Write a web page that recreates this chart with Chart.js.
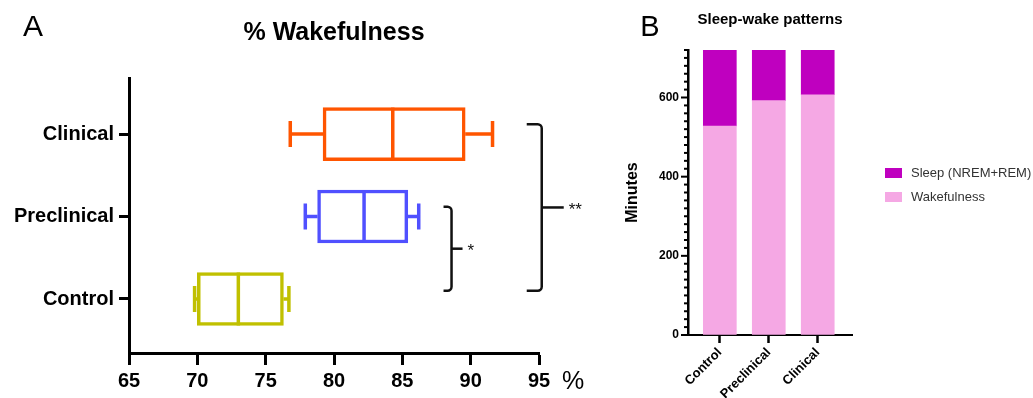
<!DOCTYPE html>
<html>
<head>
<meta charset="utf-8">
<script src="https://cdn.jsdelivr.net/npm/chart.js@4.4.1/dist/chart.umd.min.js"></script>
<style>
  html, body { margin: 0; padding: 0; background: #fff; }
  #wrap { position: relative; width: 1033px; height: 398px; overflow: hidden; }
  #boxWrap { position: absolute; left: 0; top: 0; width: 620px; height: 398px; }
  #barWrap { position: absolute; left: 620px; top: 0; width: 413px; height: 398px; }
</style>
</head>
<body>
<div id="wrap">
  <div id="boxWrap"><canvas id="boxChart"></canvas></div>
  <div id="barWrap"><canvas id="barChart"></canvas></div>
</div>
<script>
const FONT = '"Liberation Sans", Arial, sans-serif';

/* ================= DATA: panel A (% wakefulness) ================= */
const groups = ["Control", "Preclinical", "Clinical"];
const boxMin = [69.8, 77.9, 76.8];
const boxQ1 = [70.0, 78.8, 79.2];
const boxMedian = [73.0, 82.2, 84.3];
const boxQ3 = [76.3, 85.4, 89.6];
const boxMax = [76.7, 86.2, 91.6];
const boxColors = ["#c0c000", "#5050ff", "#ff5500"];
const xTicksA = [65, 70, 75, 80, 85, 90, 95];

// significance brackets: pairs of group index, label, x value of the bracket
const sigPairs = [[0, 1], [0, 2]];
const sigLabels = ["*", "**"];
const sigX = [88.6, 95.2];

/* ================= DATA: panel B (sleep-wake patterns) ================= */
const sleepGroups = ["Control", "Preclinical", "Clinical"];
const wakeMinutes = [528, 592, 607];
const sleepMinutes = [192, 128, 113];
const yMaxB = 720;
const yMinorStepB = 20;
const yMajorStepB = 200;

Chart.defaults.font.family = FONT;
Chart.defaults.color = "#000";

/* ================= PANEL A ================= */

const bracketArm = [8, 15];
const bracketTick = [11, 22];

const boxExtras = {
  id: "boxExtras",
  afterDatasetsDraw(chart) {
    const { ctx, scales: { x, y } } = chart;
    const meta = chart.getDatasetMeta(0);
    ctx.save();
    ctx.lineWidth = 3.5;
    ctx.lineCap = "butt";

    groups.forEach((g, i) => {
      const el = meta.data[i];
      const yc = el.y;
      const half = el.height / 2;
      const cap = 13;
      ctx.strokeStyle = boxColors[i];

      // median
      const xm = x.getPixelForValue(boxMedian[i]);
      ctx.beginPath();
      ctx.moveTo(xm, yc - half);
      ctx.lineTo(xm, yc + half);
      ctx.stroke();

      // whiskers
      const xMin = x.getPixelForValue(boxMin[i]);
      const xQ1 = x.getPixelForValue(boxQ1[i]);
      const xQ3 = x.getPixelForValue(boxQ3[i]);
      const xMax = x.getPixelForValue(boxMax[i]);
      ctx.beginPath();
      ctx.moveTo(xMin, yc); ctx.lineTo(xQ1, yc);
      ctx.moveTo(xQ3, yc); ctx.lineTo(xMax, yc);
      ctx.moveTo(xMin, yc - cap); ctx.lineTo(xMin, yc + cap);
      ctx.moveTo(xMax, yc - cap); ctx.lineTo(xMax, yc + cap);
      ctx.stroke();
    });

    // significance brackets
    ctx.strokeStyle = "#111";
    ctx.fillStyle = "#111";
    ctx.lineWidth = 2.5;
    ctx.font = "17px " + FONT;
    ctx.textAlign = "left";
    ctx.textBaseline = "middle";
    sigPairs.forEach(([a, b], k) => {
      const bx = x.getPixelForValue(sigX[k]);
      const yTop = y.getPixelForValue(b + 0.12);
      const yBot = y.getPixelForValue(a + 0.1);
      const yMid = (yTop + yBot) / 2;
      const arm = bracketArm[k];
      const r = 4;
      ctx.beginPath();
      ctx.moveTo(bx - arm, yTop);
      ctx.arcTo(bx, yTop, bx, yTop + r, r);
      ctx.lineTo(bx, yBot - r);
      ctx.arcTo(bx, yBot, bx - arm, yBot, r);
      ctx.lineTo(bx - arm, yBot);
      ctx.stroke();
      ctx.beginPath();
      ctx.moveTo(bx, yMid);
      ctx.lineTo(bx + bracketTick[k], yMid);
      ctx.stroke();
      ctx.fillText(sigLabels[k], bx + bracketTick[k] + 5, yMid + 3);
    });
    ctx.restore();
  },
  afterDraw(chart) {
    const { ctx, scales: { x } } = chart;
    ctx.save();
    ctx.fillStyle = "#000";
    ctx.textBaseline = "middle";
    ctx.textAlign = "center";
    ctx.font = "30px " + FONT;
    ctx.fillText("A", 33, 28);
    ctx.font = "25px " + FONT;
    ctx.fillText("%", x.right + 34, 382);
    ctx.restore();
  }
};

new Chart(document.getElementById("boxChart"), {
  type: "bar",
  data: {
    datasets: [{
      label: "% Wakefulness",
      data: groups.map((g, i) => ({ x: [boxQ1[i], boxQ3[i]], y: i })),
      backgroundColor: "#ffffff",
      borderColor: boxColors,
      borderWidth: 3.5,
      borderSkipped: false,
      barThickness: 53
    }]
  },
  options: {
    indexAxis: "y",
    responsive: true,
    maintainAspectRatio: false,
    animation: false,
    layout: { padding: { top: 0, right: 81, left: 0, bottom: 0 } },
    plugins: {
      legend: { display: false },
      tooltip: { enabled: false },
      title: {
        display: true,
        text: "% Wakefulness",
        fullSize: false,
        color: "#000",
        font: { size: 25, weight: "bold" },
        padding: { top: 18, bottom: 30 }
      }
    },
    scales: {
      x: {
        type: "linear",
        min: 65,
        max: 95,
        afterBuildTicks: s => { s.ticks = xTicksA.map(v => ({ value: v })); },
        afterFit: s => { s.height = 45; },
        ticks: { font: { size: 20, weight: "bold" }, color: "#000", padding: 4, maxRotation: 0 },
        grid: { drawOnChartArea: false, tickLength: 12, tickWidth: 3, tickColor: "#000" },
        border: { color: "#000", width: 3 }
      },
      y: {
        type: "linear",
        min: -0.655,
        max: 2.68,
        offset: false,
        afterBuildTicks: s => { s.ticks = groups.map((g, i) => ({ value: i })); },
        afterFit: s => { s.width = 129; },
        ticks: {
          callback: v => groups[v],
          font: { size: 20, weight: "bold" },
          color: "#000",
          padding: 5
        },
        grid: { offset: false, drawOnChartArea: false, tickLength: 10, tickWidth: 3, tickColor: "#000" },
        border: { color: "#000", width: 3 }
      }
    }
  },
  plugins: [boxExtras]
});

/* ================= PANEL B ================= */

const barExtras = {
  id: "barExtras",
  afterDraw(chart) {
    const { ctx, scales: { y } } = chart;
    ctx.save();
    // y tick marks: long for labelled, short for minor
    ctx.strokeStyle = "#000";
    ctx.lineWidth = 2;
    y.ticks.forEach(t => {
      const py = y.getPixelForValue(t.value);
      const len = t.value % yMajorStepB === 0 ? 7 : 4;
      ctx.beginPath();
      ctx.moveTo(y.right - len, py);
      ctx.lineTo(y.right, py);
      ctx.stroke();
    });

    // panel letter
    ctx.fillStyle = "#000";
    ctx.textAlign = "center";
    ctx.textBaseline = "middle";
    ctx.font = "29px " + FONT;
    ctx.fillText("B", 30, 28);

    // legend (top dataset first)
    const items = chart.data.datasets.slice().reverse();
    ctx.font = "13px " + FONT;
    ctx.textAlign = "left";
    items.forEach((ds, k) => {
      const ly = 173 + k * 24;
      ctx.fillStyle = ds.backgroundColor;
      ctx.fillRect(265, ly - 5, 17, 10);
      ctx.fillStyle = "#333";
      ctx.fillText(ds.label, 291, ly);
    });
    ctx.restore();
  }
};

new Chart(document.getElementById("barChart"), {
  type: "bar",
  data: {
    datasets: [
      {
        label: "Wakefulness",
        data: wakeMinutes.map((v, i) => ({ x: i, y: v })),
        backgroundColor: "#f5a8e4",
        barThickness: 33
      },
      {
        label: "Sleep (NREM+REM)",
        data: sleepMinutes.map((v, i) => ({ x: i, y: v })),
        backgroundColor: "#bf00bf",
        barThickness: 33
      }
    ]
  },
  options: {
    responsive: true,
    maintainAspectRatio: false,
    animation: false,
    layout: { padding: { top: 0, right: 181, left: 0, bottom: 0 } },
    plugins: {
      legend: { display: false },
      tooltip: { enabled: false },
      title: {
        display: true,
        text: "Sleep-wake patterns",
        fullSize: false,
        color: "#000",
        font: { size: 15, weight: "bold" },
        padding: { top: 11, bottom: 21 }
      }
    },
    scales: {
      x: {
        type: "linear",
        stacked: true,
        min: -0.65,
        max: 2.7,
        offset: false,
        afterBuildTicks: s => { s.ticks = sleepGroups.map((g, i) => ({ value: i })); },
        afterFit: s => { s.height = 63; },
        ticks: {
          callback: v => sleepGroups[v],
          minRotation: 45,
          maxRotation: 45,
          font: { size: 13, weight: "bold" },
          color: "#000",
          padding: 2
        },
        grid: { offset: false, drawOnChartArea: false, tickLength: 8, tickWidth: 2.5, tickColor: "#000" },
        border: { color: "#000", width: 2 }
      },
      y: {
        stacked: true,
        min: 0,
        max: yMaxB,
        afterBuildTicks: s => {
          const t = [];
          for (let v = 0; v <= yMaxB; v += yMinorStepB) t.push({ value: v });
          s.ticks = t;
        },
        afterFit: s => { s.width = 68; },
        ticks: {
          autoSkip: false,
          callback: v => (v % yMajorStepB === 0 ? v : ""),
          font: { size: 12, weight: "bold" },
          color: "#000",
          padding: 9
        },
        title: {
          display: true,
          text: "Minutes",
          font: { size: 16, weight: "bold" },
          color: "#000",
          padding: { top: 3, bottom: 0 }
        },
        grid: { drawOnChartArea: false, drawTicks: false },
        border: { color: "#000", width: 2.5 }
      }
    }
  },
  plugins: [barExtras]
});
</script>
</body>
</html>
